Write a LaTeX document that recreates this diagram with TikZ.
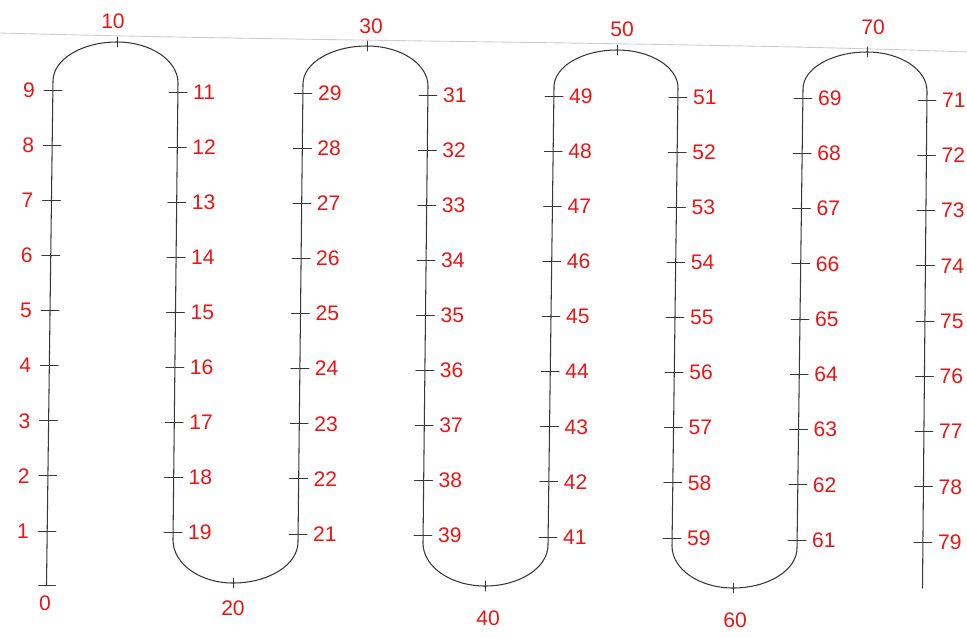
\documentclass[tikz,border=0pt]{standalone}
\usepackage{fontspec}
\setmainfont{Liberation Sans}
\usepackage{xcolor}
\usetikzlibrary{calc}

\definecolor{penred}{RGB}{232,22,22}
\definecolor{pencil}{RGB}{55,55,55}

% half ellipse from #1 over apex #2 to #3
\newcommand{\humparc}[3]{%
  .. controls ($(#1)!0.552!(#1|-#2)$) and ($(#2)!0.552!(#1|-#2)$) .. (#2)
  .. controls ($(#2)!0.552!(#3|-#2)$) and ($(#3)!0.552!(#3|-#2)$) .. (#3)}

\begin{document}
\begin{tikzpicture}[x=0.02cm, y=-0.02cm, line cap=round, line join=round,
    font=\fontsize{12}{14}\selectfont,
    numline/.style={draw=pencil, line width=0.6pt},
    tickmark/.style={draw=pencil, line width=0.5pt},
    numlabel/.style={text=penred, inner sep=1pt},
    edgeline/.style={draw=gray!40, line width=0.5pt}]

  \useasboundingbox (0,0) rectangle (967,637);

  %--- Paper edge ----------------------------------------------------------
  \draw[edgeline] (0,33) .. controls (330,42) and (700,42) .. (967,52);

  %--- Columns: lowest tick (b) and highest tick (t) -----------------------
  \foreach \k/\xb/\yb/\xt/\yt in {0/47/531/53/90,   1/173/532/178/92,
                                  2/298/534/303/93, 3/423/535/428/95,
                                  4/548/537/554/96, 5/672/538/678/97,
                                  6/797/540/803/98, 7/923/542/927/100} {
    \coordinate (c\k b) at (\xb,\yb);
    \coordinate (c\k t) at (\xt,\yt);
    \coordinate (c\k B) at ($(c\k b)+(0,8)$);
    \coordinate (c\k T) at ($(c\k t)+(0,-9)$);
  }

  %--- Ends and turning points ---------------------------------------------
  \coordinate (p0)   at (46.5,585);
  \coordinate (p10)  at (117,42);
  \coordinate (p20)  at (233,583);
  \coordinate (p30)  at (367,46);
  \coordinate (p40)  at (485,586);
  \coordinate (p50)  at (617,50);
  \coordinate (p60)  at (733,588);
  \coordinate (p70)  at (867,52);
  \coordinate (pend) at (922.5,588);

  %--- The snaking line ----------------------------------------------------
  \draw[numline] (p0) -- (c0T) \humparc{c0T}{p10}{c1T}
    -- (c1B) \humparc{c1B}{p20}{c2B}
    -- (c2T) \humparc{c2T}{p30}{c3T}
    -- (c3B) \humparc{c3B}{p40}{c4B}
    -- (c4T) \humparc{c4T}{p50}{c5T}
    -- (c5B) \humparc{c5B}{p60}{c6B}
    -- (c6T) \humparc{c6T}{p70}{c7T}
    -- (pend);

  %--- Ticks and numbers on the straight parts -----------------------------
  \foreach \k in {0,...,7}
    \foreach \j in {1,...,9} {
      \coordinate (t\k\j) at ($(c\k b)!{(\j-1)/8}!(c\k t)$);
      \draw[tickmark] ($(t\k\j)+(-9,0)$) -- ($(t\k\j)+(9,0)$);
      \pgfmathtruncatemacro{\n}{isodd(\k) ? 10*\k+10-\j : 10*\k+\j}
      \ifnum\k=0
        \node[numlabel, anchor=east] (l\n) at ($(t\k\j)+(-16,0)$) {\n};
      \else
        \node[numlabel, anchor=west] (l\n) at ($(t\k\j)+(13,0)$) {\n};
      \fi
    }

  %--- Start tick and ticks at the turning points --------------------------
  \draw[tickmark] ($(p0)+(-8,0)$) -- ($(p0)+(9,0)$);
  \foreach \p in {10,20,30,40,50,60,70}
    \draw[tickmark] ($(p\p)+(0,-5)$) -- ($(p\p)+(0,5)$);

  %--- Numbers at the ends and turning points ------------------------------
  \node[numlabel] (l0)  at (45,603)  {0};
  \node[numlabel] (l10) at (113,21)  {10};
  \node[numlabel] (l20) at (233,608) {20};
  \node[numlabel] (l30) at (371,26)  {30};
  \node[numlabel] (l40) at (488,618) {40};
  \node[numlabel] (l50) at (622,29)  {50};
  \node[numlabel] (l60) at (735,620) {60};
  \node[numlabel] (l70) at (873,27)  {70};

\end{tikzpicture}
\end{document}
